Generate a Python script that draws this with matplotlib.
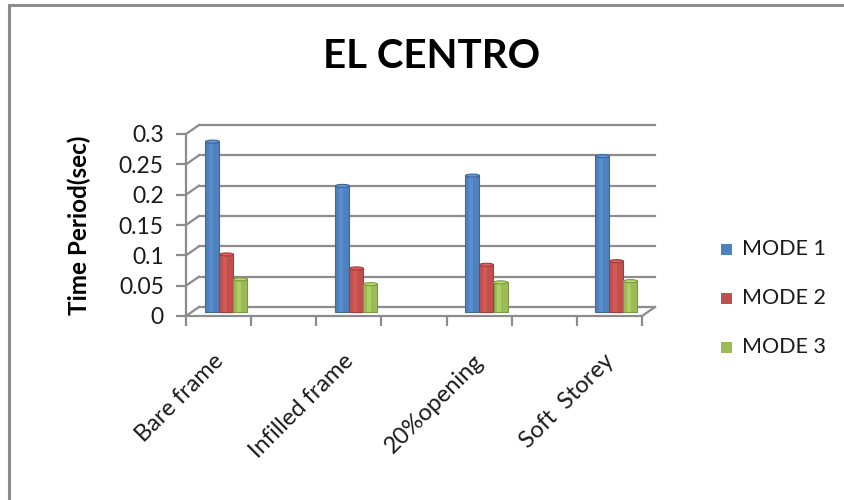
import numpy as np
import matplotlib
matplotlib.use("Agg")
import matplotlib.pyplot as plt
from matplotlib.patches import Rectangle, Ellipse
from matplotlib.transforms import offset_copy
import matplotlib.colors as mcolors

plt.rcParams['font.family'] = ['Lato', 'DejaVu Sans']

# --- data ---
categories = ["Bare frame", "Infilled frame", "20%opening", "Soft  Storey"]
series_names = ["MODE 1", "MODE 2", "MODE 3"]
mode1 = [0.280, 0.207, 0.224, 0.256]
mode2 = [0.094, 0.071, 0.077, 0.083]
mode3 = [0.053, 0.045, 0.048, 0.050]
yticks = [0, 0.05, 0.1, 0.15, 0.2, 0.25, 0.3]
ytick_labels = ["0", "0.05", "0.1", "0.15", "0.2", "0.25", "0.3"]

colors = ["#4F81BD", "#C0504D", "#9BBB59"]
grid_c = "#8C8C8C"
W, H = 845, 500

fig = plt.figure(figsize=(W / 100, H / 100), dpi=100)
# chart frame: only top and left edges are inside the picture
fig.patches.append(Rectangle((9 / W, -1), 2, 2 - 5 / H, transform=fig.transFigure,
                             fill=False, edgecolor="#8C8C8C", lw=2.2, zorder=0))

# front plot area: x 186..642 px, y 316..134 px
ax = fig.add_axes([186 / W, (H - 316) / H, 456 / W, 182 / H])
xlim = ((186 - 220) / 130, (642 - 220) / 130)
ax.set_xlim(*xlim)
ax.set_ylim(0, 0.3)
for s in ["top", "right"]:
    ax.spines[s].set_visible(False)
for s in ["left", "bottom"]:
    ax.spines[s].set_color(grid_c)
    ax.spines[s].set_linewidth(1.6)

# depth offsets (back wall, bar middle)
back = offset_copy(ax.transData, fig=fig, x=13, y=9, units='dots')
mid = offset_copy(ax.transData, fig=fig, x=6.5, y=4.5, units='dots')

for y in yticks:
    ax.plot(xlim, [y, y], color=grid_c, lw=1.6, transform=back, zorder=1, clip_on=False)
    # left wall diagonal
    x0, y0 = ax.transData.transform((xlim[0], y))
    ax.plot([x0, x0 + 13], [y0, y0 + 9], color=grid_c, lw=1.6,
            transform=None, zorder=1, clip_on=False)
# right floor diagonal
x1, y1 = ax.transData.transform((xlim[1], 0))
ax.plot([x1, x1 + 13], [y1, y1 + 9], color=grid_c, lw=1.6, transform=None,
        zorder=1, clip_on=False)

ax.set_yticks(yticks)
ax.set_yticklabels(ytick_labels, fontsize=16.5, color="#1a1a1a")
ax.set_xticks(np.linspace(xlim[0], xlim[1], 8))
ax.set_xticklabels([])
ax.tick_params(axis='both', color=grid_c, width=1.6, length=7)
ax.tick_params(axis='y', pad=9)

ax.set_ylabel("Time Period(sec)", fontsize=17.5, fontweight='bold', labelpad=20)

# bars
bw = 14 / 130
x = np.arange(len(categories))
for k, (vals, c) in enumerate(zip([mode1, mode2, mode3], colors)):
    xs = x + (k - 1) * bw
    dark = np.array(mcolors.to_rgb(c)) * 0.8
    light = np.clip(np.array(mcolors.to_rgb(c)) * 1.18, 0, 1)
    ax.bar(xs, vals, width=bw, color=c, edgecolor=dark, lw=0.8,
           transform=mid, zorder=3, clip_on=False)
    ax.bar(xs - bw * 0.12, vals, width=bw * 0.3, color=light, lw=0,
           alpha=0.6, transform=mid, zorder=4, clip_on=False)
    for xi, v in zip(xs, vals):
        ax.add_patch(Ellipse((xi, v), bw, 0.005, facecolor=light, edgecolor=dark,
                             lw=0.8, transform=mid, zorder=5, clip_on=False))

# category labels
for i, lab in enumerate(categories):
    ax.annotate(lab, xy=(i, 0), xycoords=('data', 'axes fraction'),
                xytext=(-7, -34), textcoords='offset pixels',
                ha='right', va='top', rotation=45, rotation_mode='anchor',
                fontsize=17, color="#1a1a1a")

fig.text(432 / W, 1 - 57 / H, "EL CENTRO", ha='center', va='center',
         fontsize=29, fontweight='bold')

# legend
for k, (name, c) in enumerate(zip(series_names, colors)):
    yc = 1 - (249 + 49 * k) / H
    fig.patches.append(Rectangle((721 / W, yc - 5.5 / H), 11 / W, 11 / H,
                                 transform=fig.transFigure, facecolor=c, edgecolor='none'))
    fig.text(742 / W, yc, name, ha='left', va='center', fontsize=15.5, color="#1a1a1a")

fig.savefig("out.png", dpi=100)
